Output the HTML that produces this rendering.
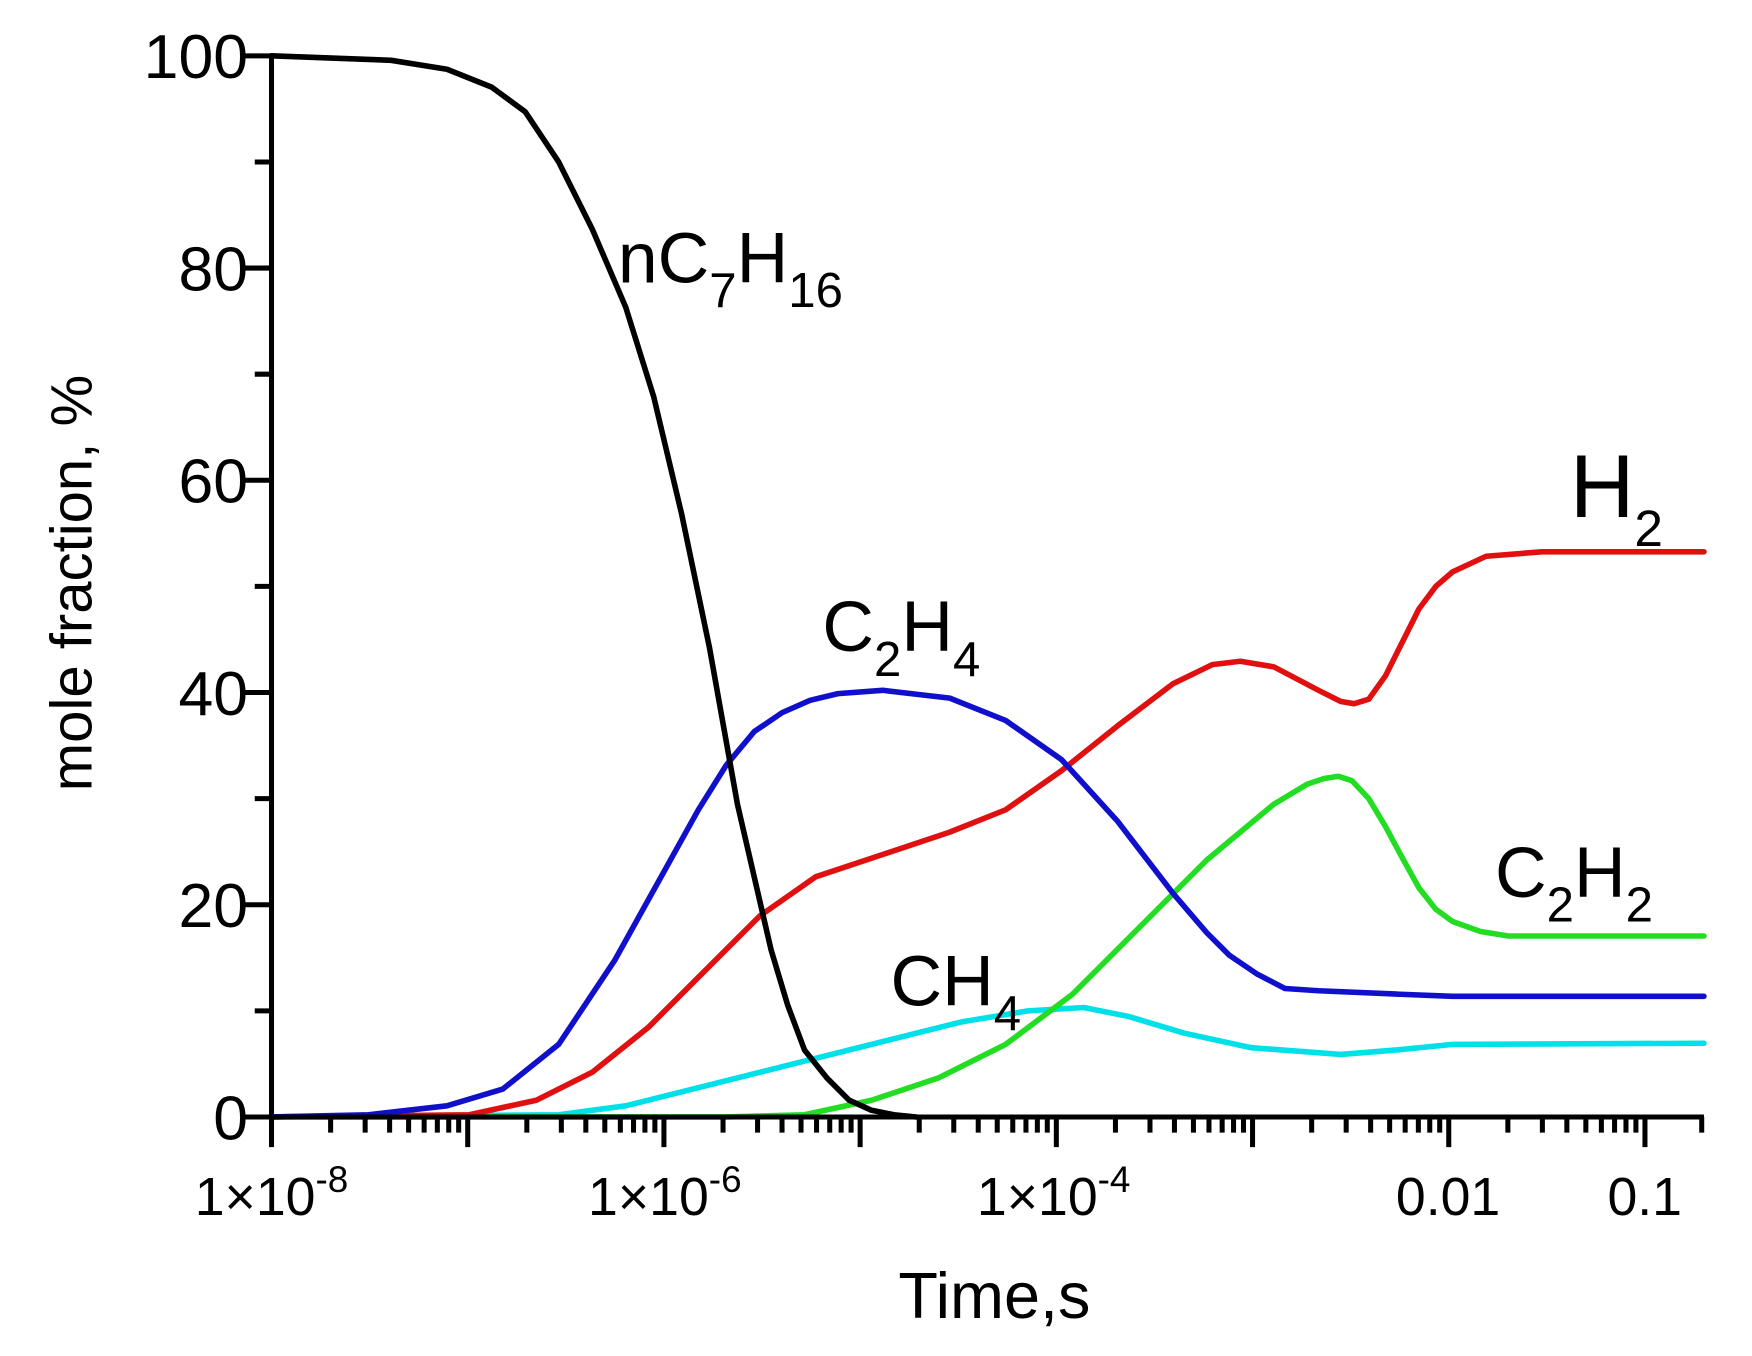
<!DOCTYPE html>
<html><head><meta charset="utf-8"><style>
html,body{margin:0;padding:0;background:#fff;}
svg{display:block;}
text{font-family:"Liberation Sans",sans-serif;fill:#000;}
</style></head><body>
<svg width="1752" height="1356" viewBox="0 0 1568 1214" preserveAspectRatio="none" xmlns="http://www.w3.org/2000/svg">
<g fill="none" stroke-linejoin="round" stroke-linecap="round" stroke-width="5">
<polyline stroke="#00e0e8" points="243,1000 500,998 560,990 620,975 700,955 780,935 860,915 920,905 970,902 1010,910 1060,925 1120,938 1200,944 1250,940 1300,935 1525,934"/>
<polyline stroke="#22dd22" points="243,1000 650,1000 720,998 780,985 840,965 900,935 960,890 1020,830 1080,770 1140,720 1170,702 1185,697 1198,695 1210,699 1225,715 1240,740 1255,768 1270,795 1285,814 1300,825 1325,834 1350,838 1525,838"/>
<polyline stroke="#e01010" points="243,1000 420,998 480,985 530,960 580,920 630,870 680,820 730,785 790,765 850,745 900,725 950,690 1000,650 1050,612 1085,595 1110,592 1140,597 1180,618 1200,628 1212,630 1225,626 1240,605 1255,575 1270,545 1285,525 1300,512 1330,498 1380,494 1525,494"/>
<polyline stroke="#1010cc" points="243,1000 330,998 400,990 450,975 500,935 550,860 600,770 625,725 650,685 675,655 700,638 725,627 750,621 790,618 850,625 900,645 950,680 1000,735 1050,800 1080,835 1100,855 1125,872 1150,885 1180,887 1250,890 1300,892 1525,892"/>
<polyline stroke="#000" points="243,50 350,54 400,62 440,78 470,100 500,145 530,205 560,275 585,355 610,460 635,580 660,720 690,850 705,900 720,940 740,965 760,985 780,994 800,998 820,1000"/>
</g>
<g stroke="#000" stroke-width="4.5" fill="none">
<line x1="243" y1="48" x2="243" y2="1000"/>
<line x1="243" y1="1000" x2="1525" y2="1000"/>
<path d="M216,50H243M216,240H243M216,430H243M216,620H243M216,810H243M216,1000H243M228,145H243M228,335H243M228,525H243M228,715H243M228,905H243"/>
<path d="M243,1000v27M418.6,1000v27M594.2,1000v27M769.8,1000v27M945.4,1000v27M1121,1000v27M1296.6,1000v27M1472.2,1000v27"/>
<path d="M295.9,1000v14M326.8,1000v14M348.7,1000v14M365.7,1000v14M379.6,1000v14M391.4,1000v14M401.6,1000v14M410.5,1000v14
M471.5,1000v14M502.4,1000v14M524.3,1000v14M541.3,1000v14M555.2,1000v14M567,1000v14M577.2,1000v14M586.1,1000v14
M647.1,1000v14M678,1000v14M699.9,1000v14M716.9,1000v14M730.8,1000v14M742.6,1000v14M752.8,1000v14M761.7,1000v14
M822.7,1000v14M853.6,1000v14M875.5,1000v14M892.5,1000v14M906.4,1000v14M918.2,1000v14M928.4,1000v14M937.3,1000v14
M998.3,1000v14M1029.2,1000v14M1051.1,1000v14M1068.1,1000v14M1082,1000v14M1093.8,1000v14M1104,1000v14M1112.9,1000v14
M1173.9,1000v14M1204.8,1000v14M1226.7,1000v14M1243.7,1000v14M1257.6,1000v14M1269.4,1000v14M1279.6,1000v14M1288.5,1000v14
M1349.5,1000v14M1380.4,1000v14M1402.3,1000v14M1419.3,1000v14M1433.2,1000v14M1445,1000v14M1455.2,1000v14M1464.1,1000v14
M1523,1000v14"/>
</g>
<g font-size="56" text-anchor="end">
<text x="222" y="70">100</text><text x="222" y="260">80</text><text x="222" y="450">60</text>
<text x="222" y="640">40</text><text x="222" y="830">20</text><text x="222" y="1020">0</text>
</g>
<g font-size="48" text-anchor="middle">
<text x="243" y="1088">1×10<tspan font-size="33" dy="-21">-8</tspan></text>
<text x="595" y="1088">1×10<tspan font-size="33" dy="-21">-6</tspan></text>
<text x="943" y="1088">1×10<tspan font-size="33" dy="-21">-4</tspan></text>
<text x="1296" y="1088">0.01</text>
<text x="1472" y="1088">0.1</text>
</g>
<text x="890" y="1180" font-size="58" text-anchor="middle">Time,s</text>
<text transform="translate(82,522) rotate(-90)" font-size="52" text-anchor="middle">mole fraction, %</text>
<g font-size="64">
<text x="553" y="253">nC<tspan font-size="44" dy="22">7</tspan><tspan dy="-22">H</tspan><tspan font-size="44" dy="22">16</tspan></text>
<text x="736" y="583">C<tspan font-size="44" dy="22">2</tspan><tspan dy="-22">H</tspan><tspan font-size="44" dy="22">4</tspan></text>
<text x="797" y="900">CH<tspan font-size="44" dy="22">4</tspan></text>
<text x="1338" y="803">C<tspan font-size="44" dy="22">2</tspan><tspan dy="-22">H</tspan><tspan font-size="44" dy="22">2</tspan></text>
<text x="1405" y="463" font-size="80">H<tspan font-size="46" dy="26">2</tspan></text>
</g>
</svg>
</body></html>
